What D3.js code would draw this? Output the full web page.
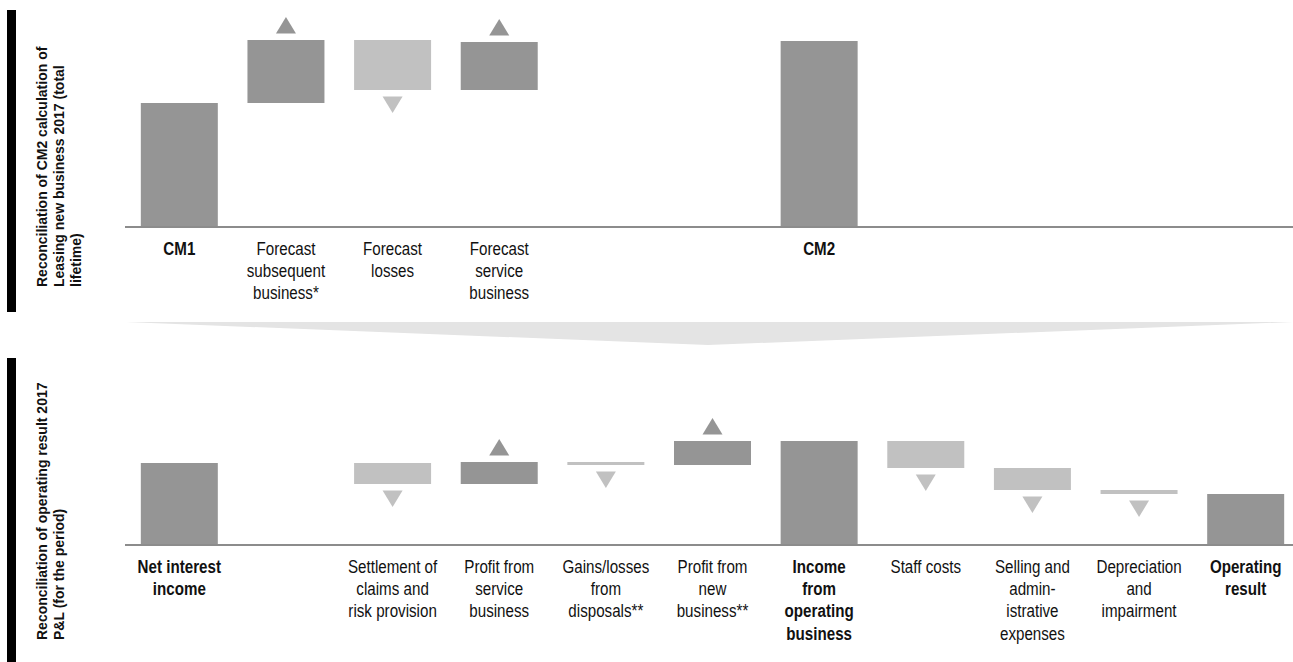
<!DOCTYPE html>
<html>
<head>
<meta charset="utf-8">
<script src="https://cdn.jsdelivr.net/npm/d3@7"></script>
<style>
  html, body { margin: 0; padding: 0; background: #fff; }
  svg { display: block; }
</style>
</head>
<body>
<div id="chart"></div>
<script>
// slots are shared by both waterfalls, empty ones are ""
var topLabels = ["CM1", "Forecast\nsubsequent\nbusiness*", "Forecast\nlosses", "Forecast\nservice\nbusiness", "", "", "CM2", "", "", "", ""];
var topKinds = ["total", "delta", "delta", "delta", null, null, "total", null, null, null, null];
var topValues = [124, 63, -50, 48, null, null, 186, null, null, null, null];

var bottomLabels = ["Net interest\nincome", "", "Settlement of\nclaims and\nrisk provision", "Profit from\nservice\nbusiness", "Gains/losses\nfrom\ndisposals**", "Profit from\nnew\nbusiness**", "Income\nfrom\noperating\nbusiness", "Staff costs", "Selling and\nadmin-\nistrative\nexpenses", "Depreciation\nand\nimpairment", "Operating\nresult"];
var bottomKinds = ["total", null, "delta", "delta", "delta", "delta", "total", "delta", "delta", "delta", "total"];
var bottomValues = [82, null, -21, 22, -3, 24, 104, -27, -22, -4, 51];

var topTitle = ["Reconciliation of CM2 calculation of", "Leasing new business 2017 (total", "lifetime)"];
var bottomTitle = ["Reconciliation of operating result 2017", "P&L (for the period)"];

var W = 1293, H = 662;
var DARK = "#959595", LIGHT = "#c1c1c1";

var svg = d3.select("#chart").append("svg")
  .attr("width", W).attr("height", H);

var x = d3.scaleBand()
  .domain(d3.range(topLabels.length))
  .range([126, 1299])
  .paddingInner(0.278)
  .paddingOuter(0.139);

// turn values into floating waterfall segments
function steps(values, kinds) {
  var run = 0, out = [];
  values.forEach(function (v, i) {
    if (kinds[i] === null) return;
    if (kinds[i] === "total") {
      out.push({ i: i, kind: "total", y0: 0, y1: v, up: true });
      run = v;
    } else {
      out.push({ i: i, kind: "delta", y0: run, y1: run + v, up: v >= 0 });
      run += v;
    }
  });
  return out;
}

function waterfall(labels, kinds, values, y, base) {
  var g = svg.append("g");
  var data = steps(values, kinds);

  g.selectAll("rect.bar").data(data).enter().append("rect")
    .attr("class", "bar")
    .attr("x", function (d) { return x(d.i); })
    .attr("width", x.bandwidth())
    .attr("y", function (d) { return y(Math.max(d.y0, d.y1)); })
    .attr("height", function (d) { return Math.abs(y(d.y0) - y(d.y1)); })
    .attr("fill", function (d) { return d.kind === "total" || d.up ? DARK : LIGHT; });

  // arrows beside the delta bars
  var tw = 10, th = 16.5, gap = 6.5;
  g.selectAll("path.arrow").data(data.filter(function (d) { return d.kind === "delta"; }))
    .enter().append("path")
    .attr("class", "arrow")
    .attr("fill", function (d) { return d.up ? DARK : LIGHT; })
    .attr("d", function (d) {
      var cx = x(d.i) + x.bandwidth() / 2;
      if (d.up) {
        var b = y(Math.max(d.y0, d.y1)) - gap;
        return "M" + (cx - tw) + "," + b + "L" + (cx + tw) + "," + b + "L" + cx + "," + (b - th) + "Z";
      }
      var t = y(Math.min(d.y0, d.y1)) + gap;
      return "M" + (cx - tw) + "," + t + "L" + (cx + tw) + "," + t + "L" + cx + "," + (t + th) + "Z";
    });

  g.append("line")
    .attr("x1", 125).attr("x2", W)
    .attr("y1", base).attr("y2", base)
    .attr("stroke", "#8c8c8c").attr("stroke-width", 2);

  // labels, narrow face imitated with a horizontal squeeze
  labels.forEach(function (lab, i) {
    if (!lab) return;
    var t = g.append("text")
      .attr("transform", "translate(" + (x(i) + x.bandwidth() / 2) + "," + (base + 27.5) + ") scale(0.82,1)")
      .attr("text-anchor", "middle")
      .attr("font-family", "'Liberation Sans', Arial, sans-serif")
      .attr("font-size", 18.5)
      .attr("font-weight", kinds[i] === "total" ? "bold" : "normal")
      .attr("fill", "#111");
    lab.split("\n").forEach(function (line, k) {
      t.append("tspan").attr("x", 0).attr("y", k * 22.4).text(line);
    });
  });
}

function sideTitle(lines, y0, y1, textY) {
  svg.append("rect")
    .attr("x", 7).attr("y", y0).attr("width", 9).attr("height", y1 - y0)
    .attr("fill", "#000");
  var t = svg.append("text")
    .attr("transform", "translate(47," + textY + ") rotate(-90)")
    .attr("font-family", "'Liberation Sans', Arial, sans-serif")
    .attr("font-size", 14)
    .attr("font-weight", "bold")
    .attr("fill", "#111");
  lines.forEach(function (line, k) {
    t.append("tspan").attr("x", 0).attr("y", k * 17).text(line);
  });
}

var yTop = d3.scaleLinear().domain([0, 200]).range([227, 27]);
var yBottom = d3.scaleLinear().domain([0, 100]).range([545, 445]);

waterfall(topLabels, topKinds, topValues, yTop, 227);
waterfall(bottomLabels, bottomKinds, bottomValues, yBottom, 545);

// grey chevron linking the two panels
svg.append("path")
  .attr("d", "M126,322L1293,322L708,345Z")
  .attr("fill", "#e4e4e4");

sideTitle(topTitle, 10, 312, 287);
sideTitle(bottomTitle, 358, 662, 640);
</script>
</body>
</html>
